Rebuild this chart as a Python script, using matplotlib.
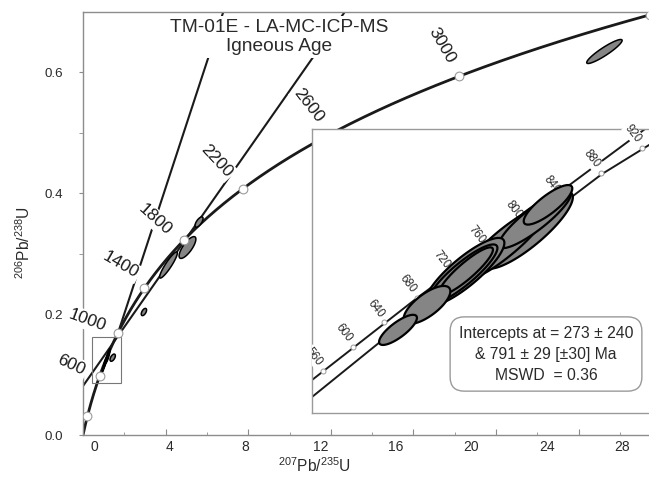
import numpy as np
import matplotlib
matplotlib.use("Agg")
import matplotlib.pyplot as plt
from matplotlib.patches import Polygon, Rectangle

# ---------------- data ----------------
LAMBDA_238 = 1.55125e-10   # 1/yr
LAMBDA_235 = 9.8485e-10    # 1/yr

main_marker_ages = [200, 600, 1000, 1400, 1800, 2200, 2600, 3000, 3400]   # Ma
main_label_ages = [600, 1000, 1400, 1800, 2200, 2600, 3000]
inset_ages = [560, 600, 640, 680, 720, 760, 800, 840, 880, 920]

# straight reference lines in the main panel (207Pb/235U, 206Pb/238U)
line1_x = [1.695, 6.80]
line1_y = [0.1686, 0.70]
line2_x = [0.0, 12.69]
line2_y = [0.081, 0.70]

# the two band lines of the inset
inset_upper_x = [0.7105, 0.9536, 1.4813]
inset_upper_y = [0.08823, 0.11125, 0.15868]
inset_lower_x = [0.7105, 0.8679, 1.3818, 1.5508]
inset_lower_y = [0.08346, 0.0989, 0.14605, 0.15868]

# zoom box drawn on the main panel
box_x = [0.44, 1.84]
box_y = [0.086, 0.162]

# analyses of the igneous cluster: 207/235, s, 206/238, s, rho
cluster_x = [1.2105, 1.1573, 1.2267, 1.2568, 1.0647, 1.0600, 1.0670, 0.9767, 0.9096]
cluster_sx = [0.1038, 0.0994, 0.0836, 0.0562, 0.0911, 0.0797, 0.0623, 0.0540, 0.0438]
cluster_y = [0.1303, 0.1267, 0.1334, 0.1374, 0.1186, 0.1180, 0.1188, 0.1093, 0.1023]
cluster_sy = [0.01084, 0.01031, 0.00815, 0.00555, 0.00951, 0.00828, 0.00666, 0.00533, 0.00423]
cluster_rho = [0.850, 0.891, 0.881, 0.827, 0.851, 0.879, 0.899, 0.719, 0.796]

# other analyses (main panel only)
other_x = [25.25, 5.06, 5.62, 4.14, 2.95, 1.438]
other_sx = [0.857, 0.406, 0.194, 0.4286, 0.128, 0.128]
other_y = [0.6339, 0.3099, 0.352, 0.281, 0.2033, 0.1278]
other_sy = [0.01984, 0.01802, 0.00846, 0.0216, 0.00596, 0.00596]
other_rho = [0.919, 0.769, 0.683, 0.915, 0.544, 0.544]

x_tick_labels = [0, 4, 8, 12, 16, 20, 24, 28]
y_tick_values = [0.0, 0.2, 0.4, 0.6]

title_text = "TM-01E - LA-MC-ICP-MS\nIgneous Age"
result_text = "Intercepts at = 273 \u00b1 240\n& 791 \u00b1 29 [\u00b130] Ma\nMSWD  = 0.36"

# ---------------- fonts ----------------
FAM = "Liberation Sans"
plt.rcParams["font.family"] = [FAM, "DejaVu Sans"]
plt.rcParams["mathtext.fontset"] = "custom"
plt.rcParams["mathtext.rm"] = FAM
plt.rcParams["mathtext.it"] = FAM
plt.rcParams["mathtext.bf"] = FAM
plt.rcParams["mathtext.default"] = "regular"

SPINE = "#8c8c8c"
INK = "#1a1a1a"
TXT = "#2a2a2a"
FILL = "#858585"


def concordia(t_ma):
    t = np.asarray(t_ma, dtype=float) * 1e6
    return np.expm1(LAMBDA_235 * t), np.expm1(LAMBDA_238 * t)


def ellipse_xy(x, sx, y, sy, rho, n=120):
    cov = np.array([[sx * sx, rho * sx * sy], [rho * sx * sy, sy * sy]])
    L = np.linalg.cholesky(cov)
    t = np.linspace(0, 2 * np.pi, n)
    p = L @ np.vstack([np.cos(t), np.sin(t)])
    return np.column_stack([x + p[0], y + p[1]])


fig = plt.figure(figsize=(6.49, 4.82), dpi=100)

# ---------------- main panel ----------------
ax = fig.add_axes([0.12789, 0.09751, 0.95455, 0.87863])
ax.set_xlim(0, 30)
ax.set_ylim(0, 0.70)
for s in ax.spines.values():
    s.set_color(SPINE)
    s.set_linewidth(1.0)

# concordia
tc = np.linspace(0, 3600, 600)
cx, cy = concordia(tc)
ax.plot(cx, cy, color=INK, lw=2.0, zorder=2, solid_capstyle="round")
for lx, ly in [(line1_x, line1_y), (line2_x, line2_y)]:
    ax.plot(lx, ly, color=INK, lw=1.5, zorder=2)

mx, my = concordia(main_marker_ages)
ax.plot(mx, my, "o", ms=6.3, mfc="white", mec="#9a9a9a", mew=0.8, zorder=6, ls="none")

label_layout = {600: (-20.2, 7.9, -25), 1000: (-21.6, 9.4, -20), 1400: (-17.3, 16.6, -30),
                1800: (-20.9, 15.1, -42), 2200: (-18.7, 20.2, -47), 2600: (-15.1, 20.9, -52),
                3000: (-12.2, 22.3, -60)}
for age in main_label_ages:
    ax_, ay_ = concordia(age)
    dx, dy, rot = label_layout[age]
    ax.annotate(str(age), (float(ax_), float(ay_)), xytext=(dx, dy), textcoords="offset points",
                ha="center", va="center", rotation=rot, rotation_mode="anchor",
                fontsize=12.5, color=INK, zorder=7, annotation_clip=False,
                bbox=dict(boxstyle="square,pad=0.12", fc="white", ec="none"))

# ellipses
for x, sx, y, sy, r in zip(other_x, other_sx, other_y, other_sy, other_rho):
    ax.add_patch(Polygon(ellipse_xy(x, sx, y, sy, r), closed=True, fc=FILL, ec="black",
                         lw=1.1, zorder=4))
for x, sx, y, sy, r in zip(cluster_x, cluster_sx, cluster_y, cluster_sy, cluster_rho):
    ax.add_patch(Polygon(ellipse_xy(x, sx, y, sy, r), closed=True, fc="#222222", ec="black",
                         lw=0.8, zorder=4))

ax.add_patch(Rectangle((box_x[0], box_y[0]), box_x[1] - box_x[0], box_y[1] - box_y[0],
                       fill=False, ec="#777777", lw=0.8, zorder=5))

ax.text(0.3164, 0.9398, title_text, transform=ax.transAxes, ha="center", va="center",
        fontsize=13.8, color=TXT, linespacing=1.12, zorder=8,
        bbox=dict(boxstyle="square,pad=0.15", fc="white", ec="none"))

# ticks
ax.set_xticks(range(0, 31, 4))
ax.set_xticks(range(2, 31, 4), minor=True)
ax.tick_params(axis="x", which="both", direction="in", labelbottom=False, color=SPINE)
ax.tick_params(axis="x", which="major", length=4)
ax.tick_params(axis="x", which="minor", length=2.5)
ax.set_yticks(y_tick_values)
ax.set_yticks([0.1, 0.3, 0.5], minor=True)
ax.set_yticklabels([f"{v:.1f}" for v in y_tick_values])
ax.tick_params(axis="y", which="both", direction="out", length=3, color=SPINE,
               labelsize=9.6, labelcolor=TXT, pad=11.5)

sec = ax.secondary_xaxis("bottom", functions=(lambda x: (x - 0.557) / 0.9128,
                                               lambda v: 0.557 + 0.9128 * v))
sec.set_xticks(x_tick_labels)
sec.set_xticklabels([str(v) for v in x_tick_labels])
sec.tick_params(length=0, pad=3.5, labelsize=10, labelcolor=TXT)
sec.spines["bottom"].set_visible(False)

ax.set_xlabel(r"$^{207}$Pb/$^{235}$U", fontsize=11.2, color=TXT)
ax.xaxis.set_label_coords(0.373, -0.073)
ax.xaxis.label.set_va("center")
ax.set_ylabel(r"$^{206}$Pb/$^{238}$U", fontsize=11.2, color=TXT)
ax.yaxis.set_label_coords(-0.0952, 0.4534)
ax.yaxis.label.set_va("center")

# ---------------- inset ----------------
axi = fig.add_axes([0.48074, 0.14315, 0.60555, 0.58921])
axi.set_facecolor("white")
axi.set_xlim(0.7105, 1.6202)
axi.set_ylim(0.07897, 0.15868)
axi.set_xticks([])
axi.set_yticks([])
for s in axi.spines.values():
    s.set_color("#9a9a9a")
    s.set_linewidth(1.0)

axi.plot(inset_upper_x, inset_upper_y, color=INK, lw=1.4, zorder=2)
axi.plot(inset_lower_x, inset_lower_y, color=INK, lw=1.4, zorder=2)

ix, iy = concordia(inset_ages)
axi.plot(ix, iy, "o", ms=3.6, mfc="white", mec="#9a9a9a", mew=0.7, zorder=3, ls="none")
for age, px, py in zip(inset_ages, ix, iy):
    clip = age < 600
    axi.annotate(str(age), (float(px), float(py)), xytext=(-6.5, 10.1), textcoords="offset points",
                 ha="center", va="center", rotation=-52, rotation_mode="anchor",
                 fontsize=8.3, color=TXT, zorder=3.5, annotation_clip=False, clip_on=clip,
                 bbox=dict(boxstyle="square,pad=0.08", fc="white", ec="none"))

for x, sx, y, sy, r in zip(cluster_x, cluster_sx, cluster_y, cluster_sy, cluster_rho):
    axi.add_patch(Polygon(ellipse_xy(x, sx, y, sy, r), closed=True, fc=FILL, ec="black",
                          lw=1.6, zorder=4))

axi.text(0.5954, 0.2077, result_text, transform=axi.transAxes, ha="center", va="center",
         fontsize=11.3, color=TXT, linespacing=1.5, zorder=6,
         bbox=dict(boxstyle="round,pad=0.55,rounding_size=0.9", fc="white", ec="#9a9a9a", lw=1.0))

fig.savefig("out.png", dpi=100)
